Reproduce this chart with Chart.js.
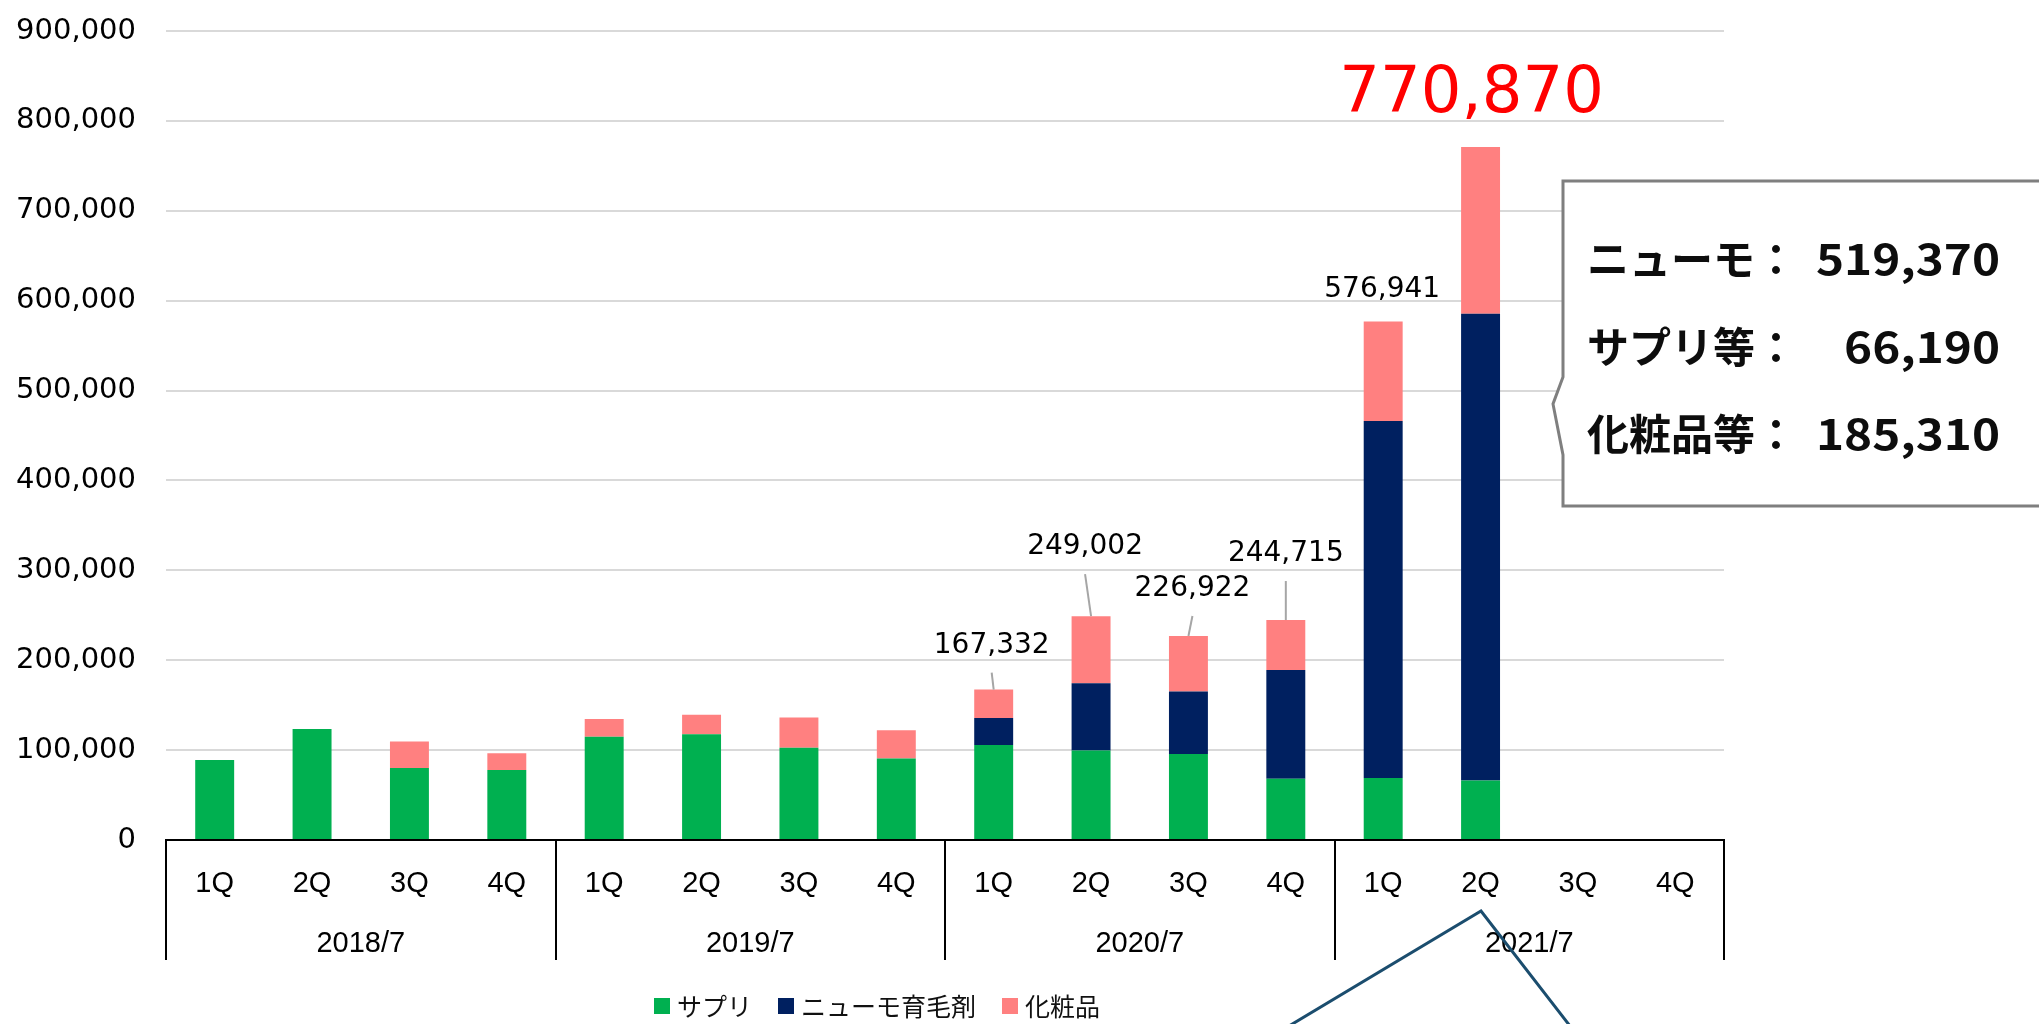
<!DOCTYPE html>
<html lang="ja">
<head>
<meta charset="UTF-8">
<title>四半期売上推移</title>
<script src="https://cdn.jsdelivr.net/npm/chart.js"></script>
<style>
    body { margin: 0; background: #fff; }
    .wrap { width: 2039px; height: 1024px; }
</style>
</head>
<body>
<div class="wrap"><canvas id="chart"></canvas></div>
<script>
// data
const quarters = ['1Q', '2Q', '3Q', '4Q', '1Q', '2Q', '3Q', '4Q', '1Q', '2Q', '3Q', '4Q', '1Q', '2Q', '3Q', '4Q'];
const years = ['2018/7', '2019/7', '2020/7', '2021/7'];
const supplement = [89000, 123500, 80200, 78000, 114900, 117600, 102600, 90700, 105600, 99700, 95600, 68100, 69000, 66190, null, null];
const newmo = [0, 0, 0, 0, 0, 0, 0, 0, 30000, 74700, 69600, 121100, 397000, 519370, null, null];
const cosmetics = [0, 0, 29500, 18600, 19800, 21600, 33600, 31300, 31732, 74602, 61722, 55515, 110941, 185310, null, null];
const seriesNames = ['サプリ', 'ニューモ育毛剤', '化粧品'];
const calloutNames = ['ニューモ：', 'サプリ等：', '化粧品等：'];

// which bars get a total label, and where the label sits relative to the bar top
const totalLabels = [
    { i: 8, dx: -2, dy: -44, leader: true },
    { i: 9, dx: -6, dy: -69, leader: true },
    { i: 10, dx: 4, dy: -47, leader: true },
    { i: 11, dx: 0, dy: -66, leader: true },
    { i: 12, dx: -1, dy: -32, leader: false }
];
const highlightIndex = 13;

const fmt = v => v.toLocaleString('en-US');
const total = i => (supplement[i] || 0) + (newmo[i] || 0) + (cosmetics[i] || 0);

const extras = {
    id: 'extras',
    afterDatasetsDraw(chart) {
        const ctx = chart.ctx;
        const x = chart.scales.x, y = chart.scales.y;
        ctx.save();
        ctx.font = '28px "DejaVu Sans"';
        ctx.fillStyle = '#000';
        ctx.textAlign = 'center';
        ctx.textBaseline = 'middle';
        totalLabels.forEach(l => {
            const bx = x.getPixelForValue(l.i);
            const by = y.getPixelForValue(total(l.i));
            const lx = bx + l.dx, ly = by + l.dy;
            if (l.leader) {
                ctx.strokeStyle = '#a6a6a6';
                ctx.lineWidth = 2;
                ctx.beginPath();
                ctx.moveTo(lx, ly + 27);
                ctx.lineTo(bx, by);
                ctx.stroke();
            }
            ctx.fillText(fmt(total(l.i)), lx, ly);
        });
        // big red total on the latest quarter
        const hx = x.getPixelForValue(highlightIndex);
        const hy = y.getPixelForValue(total(highlightIndex));
        ctx.font = '64px "DejaVu Sans"';
        ctx.fillStyle = '#ff0000';
        ctx.fillText(fmt(total(highlightIndex)), hx - 9, hy - 52);
        ctx.restore();
    },
    afterDraw(chart) {
        const ctx = chart.ctx;
        const x = chart.scales.x;
        const area = chart.chartArea;
        const step = x.getPixelForValue(1) - x.getPixelForValue(0);
        ctx.save();

        // group separators and year labels
        ctx.strokeStyle = '#000';
        ctx.lineWidth = 2;
        for (let g = 0; g <= years.length; g++) {
            const px = Math.round(area.left + g * 4 * step);
            ctx.beginPath();
            ctx.moveTo(px, area.bottom);
            ctx.lineTo(px, 960);
            ctx.stroke();
        }
        ctx.font = '29px "Liberation Sans"';
        ctx.fillStyle = '#000';
        ctx.textAlign = 'center';
        ctx.textBaseline = 'middle';
        years.forEach((yr, g) => {
            ctx.fillText(yr, area.left + (g * 4 + 2) * step, 944);
        });

        // callout box with notch on the left
        ctx.fillStyle = '#fff';
        ctx.strokeStyle = '#7f7f7f';
        ctx.lineWidth = 3;
        ctx.beginPath();
        ctx.moveTo(2045, 181);
        ctx.lineTo(1563, 181);
        ctx.lineTo(1563, 377);
        ctx.lineTo(1553, 404);
        ctx.lineTo(1563, 455);
        ctx.lineTo(1563, 506);
        ctx.lineTo(2045, 506);
        ctx.closePath();
        ctx.fill();
        ctx.stroke();

        const vals = [newmo[highlightIndex], supplement[highlightIndex], cosmetics[highlightIndex]];
        const rows = [259, 347, 434];
        ctx.font = 'bold 42px "Noto Sans CJK JP"';
        ctx.fillStyle = '#0d0d0d';
        ctx.textBaseline = 'middle';
        ctx.textAlign = 'left';
        calloutNames.forEach((n, k) => ctx.fillText(n, 1587, rows[k]));
        const sx = 184 / ctx.measureText(fmt(vals[0])).width;
        ctx.textAlign = 'right';
        vals.forEach((v, k) => {
            ctx.save();
            ctx.translate(2000, rows[k]);
            ctx.scale(sx, 1);
            ctx.fillText(fmt(v), 0, 0);
            ctx.restore();
        });

        // legend
        ctx.font = '25px "Noto Sans CJK JP"';
        ctx.textAlign = 'left';
        ctx.textBaseline = 'middle';
        let lx = 654;
        chart.data.datasets.forEach(ds => {
            ctx.fillStyle = ds.backgroundColor;
            ctx.fillRect(lx, 998, 16, 16);
            ctx.fillStyle = '#111';
            ctx.fillText(ds.label, lx + 23, 1006);
            lx += 23 + ctx.measureText(ds.label).width + 26;
        });

        // pointer line at the bottom
        ctx.strokeStyle = '#1b4d6e';
        ctx.lineWidth = 3;
        ctx.beginPath();
        ctx.moveTo(1289, 1026);
        ctx.lineTo(1481, 911);
        ctx.lineTo(1570, 1026);
        ctx.stroke();
        ctx.restore();
    }
};

new Chart(document.getElementById('chart'), {
    type: 'bar',
    data: {
        labels: quarters,
        datasets: [
            { label: seriesNames[0], data: supplement, backgroundColor: '#00b050' },
            { label: seriesNames[1], data: newmo, backgroundColor: '#002060' },
            { label: seriesNames[2], data: cosmetics, backgroundColor: '#ff8080' }
        ]
    },
    options: {
        responsive: true,
        maintainAspectRatio: false,
        animation: false,
        devicePixelRatio: 1,
        layout: { padding: { top: 31, right: 315, bottom: 0, left: 0 } },
        datasets: { bar: { categoryPercentage: 1, barPercentage: 0.4 } },
        plugins: {
            legend: { display: false },
            tooltip: { enabled: false }
        },
        scales: {
            x: {
                stacked: true,
                grid: { display: false },
                border: { display: true, color: '#000', width: 2 },
                ticks: {
                    color: '#000',
                    font: { family: 'Liberation Sans', size: 29 },
                    padding: 19,
                    maxRotation: 0
                },
                afterFit: s => { s.height = 184; s.paddingLeft = 0; s.paddingRight = 0; }
            },
            y: {
                stacked: true,
                min: 0,
                max: 900000,
                grid: { color: '#d9d9d9', lineWidth: 2, drawTicks: false },
                border: { display: false },
                ticks: {
                    stepSize: 100000,
                    color: '#000',
                    padding: 30,
                    font: { family: 'DejaVu Sans', size: 29 },
                    callback: v => fmt(v)
                },
                afterFit: s => { s.width = 166; s.paddingTop = 0; s.paddingBottom = 0; }
            }
        }
    },
    plugins: [extras]
});
</script>
</body>
</html>
